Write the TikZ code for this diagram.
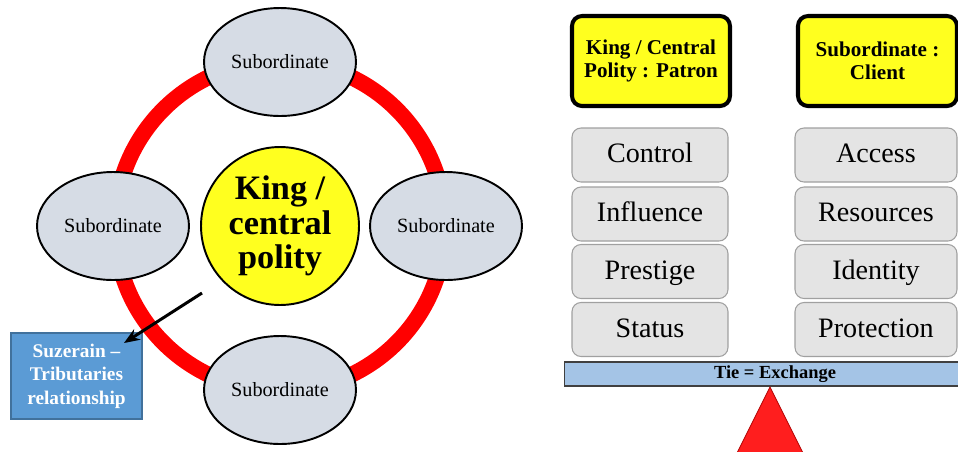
\documentclass[tikz,border=0pt]{standalone}
\usepackage{fontspec}
\setmainfont{Liberation Serif}
\usetikzlibrary{shapes.geometric, arrows.meta}

\definecolor{ellfill}{HTML}{D6DCE5}
\definecolor{kingyellow}{HTML}{FFFF1F}
\definecolor{suzblue}{HTML}{5B9BD5}
\definecolor{suzedge}{HTML}{41719C}
\definecolor{itemgray}{HTML}{E4E4E4}
\definecolor{itemedge}{HTML}{A0A0A0}
\definecolor{tieblue}{HTML}{A4C4E6}
\definecolor{pivotred}{HTML}{FF1E1E}

\tikzset{
  subnode/.style={ellipse, draw, line width=1.1pt, fill=ellfill, inner sep=0pt,
    minimum width=3.04cm, minimum height=2.16cm, font=\fontsize{11.5}{13}\selectfont},
  rolebox/.style={draw, line width=2.3pt, fill=kingyellow, rounded corners=0.2cm,
    minimum height=1.8cm, align=center, font=\fontsize{12}{13}\selectfont\bfseries},
  itembox/.style={draw=itemedge, line width=0.6pt, fill=itemgray, rounded corners=0.18cm,
    minimum height=1.08cm, text height=12pt, text depth=3pt, font=\fontsize{16}{18}\selectfont}
}

\begin{document}
\begin{tikzpicture}[x=0.02cm, y=-0.02cm]
            \clip (0,0) rectangle (958,451);
            \fill[white] (0,0) rectangle (958,451);
            \draw[red, line width=0.32cm] (280,226) circle[radius=3.3cm];
            \node[subnode] (subtop) at (280,62) {Subordinate};
            \node[subnode] (subleft) at (113,226) {Subordinate};
            \node[subnode] (subright) at (446,226) {Subordinate};
            \node[subnode] (subbottom) at (280,390) {Subordinate};
            \node[circle, draw, line width=1.1pt, fill=kingyellow, minimum size=3.16cm, inner sep=0pt,
              align=center, font=\fontsize{19.5}{19.5}\selectfont\bfseries] (king) at (280,226) {King /\\central\\polity};
            \node[draw=suzedge, line width=0.8pt, fill=suzblue, text=white, minimum width=2.62cm,
              minimum height=1.72cm, inner sep=0pt, align=center,
              font=\fontsize{11}{13.3}\selectfont\bfseries] (suzerain) at (76.5,376) {Suzerain --\\Tributaries\\relationship};
            \coordinate (arrtail) at (202,293);
            \coordinate (arrhead) at (124,343);
            \draw[line width=1.7pt, -{Stealth[length=9pt, width=7pt]}] (arrtail) -- (arrhead);
            \node[rolebox, minimum width=3.16cm] (patron) at (651,61) {King / Central\\Polity : Patron};
            \node[rolebox, minimum width=3.18cm] (client) at (877.5,61) {Subordinate :\\Client};
            \node[itembox, minimum width=3.12cm] (control) at (650,155) {Control};
            \node[itembox, minimum width=3.12cm] (influence) at (650,214) {Influence};
            \node[itembox, minimum width=3.12cm] (prestige) at (650,271.5) {Prestige};
            \node[itembox, minimum width=3.12cm] (status) at (650,329.5) {Status};
            \node[itembox, minimum width=3.24cm] (access) at (876,155) {Access};
            \node[itembox, minimum width=3.24cm] (resources) at (876,214) {Resources};
            \node[itembox, minimum width=3.24cm] (identity) at (876,271.5) {Identity};
            \node[itembox, minimum width=3.24cm] (protection) at (876,329.5) {Protection};
            \node[draw=black!75, line width=0.6pt, fill=tieblue, minimum width=8.44cm, minimum height=0.48cm,
              inner sep=0pt, font=\fontsize{10.5}{12}\selectfont\bfseries] (tie) at (775,374) {Tie = Exchange};
            \draw[draw=red!70!black, line width=0.5pt, fill=pivotred] (770,387) -- (733.5,460) -- (806.5,460) -- cycle;
        \end{tikzpicture}
\end{document}
